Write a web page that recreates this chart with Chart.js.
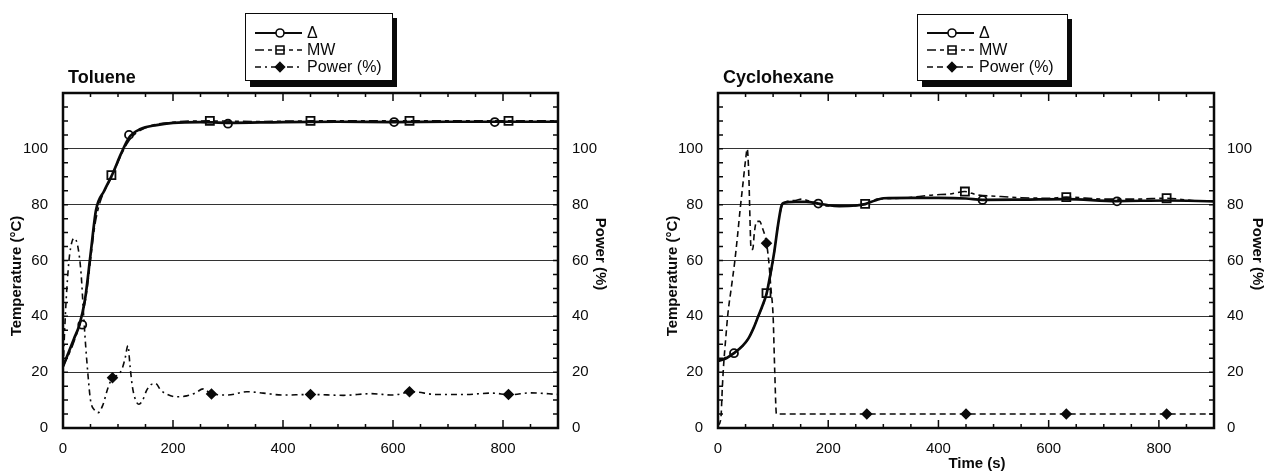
<!DOCTYPE html>
<html><head><meta charset="utf-8">
<script src="https://cdn.jsdelivr.net/npm/chart.js@4.4.0/dist/chart.umd.min.js"></script>
<style>
html,body{margin:0;padding:0;background:#fff;width:1265px;height:471px;overflow:hidden}
canvas{position:absolute;top:0}
</style></head><body>
<canvas id="c1" width="625" height="471" style="left:0"></canvas>
<canvas id="c2" width="610" height="471" style="left:655px"></canvas>
<script>
// ---------- Tick labels / axis ranges ----------
const xTicks = [0, 200, 400, 600, 800];
const yTicks = [0, 20, 40, 60, 80, 100];
const legendLabels = ['\u0394', 'MW', 'Power (%)'];

// ---------- Toluene ----------
const tolDeltaT = [0,10,20,30,40,50,60,75,90,105,120,140,170,200,250,300,400,500,600,700,800,900];
const tolDeltaV = [22,27,32,37,46,62,78,85,91,98,104,107,108.5,109.3,109.6,109.3,109.6,109.7,109.6,109.7,109.7,109.7];
const tolMWT = [0,20,40,60,90,120,150,200,267,350,450,550,630,720,810,900];
const tolMWV = [22,31,45,75,90.6,103,107.5,109.5,110,109.8,110,110,110,110,110,110];
const tolPowT = [0,3,7,12,20,27,33,37,41,45,50,57,64,72,82,90,100,107,113,118,122,126,132,138,145,152,160,168,178,190,205,225,240,255,270,300,334,364,400,450,510,560,600,634,680,730,780,813,850,900];
const tolPowV = [20,35,50,62,68,65,55,42,30,20,10,6.5,5.5,8,14.5,18,19,21,25,29.5,22,15,10,8.5,10,13.5,15.5,16,13.5,12,11.2,11.5,12.5,14,12.2,11.8,13,12.5,11.8,12,11.7,12.3,11.8,13,12,12,12.5,11.9,12.6,12];
const tolDeltaMarkT = [35,120,300,602,785];
const tolDeltaMarkV = [37,105,109,109.6,109.6];
const tolMWMarkT = [88,267,450,630,810];
const tolMWMarkV = [90.6,110,110,110,110];
const tolPowMarkT = [90,270,450,630,810];
const tolPowMarkV = [18,12.2,12,13,12];

// ---------- Cyclohexane ----------
const cycDeltaT = [0,15,29,45,55,65,73,82,88,95,102,109,115,120,140,160,182,200,220,250,267,285,300,350,400,450,480,550,632,724,814,900];
const cycDeltaV = [24,25,26.8,29.5,32,36,40,44.5,48,55,63,72.8,79.5,80.7,81,81,80.4,79.8,79.5,79.7,80.2,81.5,82.3,82.4,82.4,82.2,81.7,81.8,82,81.3,81.5,81.2];
const cycMWT = [0,30,55,73,88,100,110,118,140,152,170,200,240,267,290,330,391,420,448,470,506,550,600,632,700,760,814,860,900];
const cycMWV = [24,27,32,40,48,60,74,80.5,81.5,82,81,79.5,79.5,80.3,82,82.3,83.5,83.8,84.7,83.5,83,82.5,82.3,82.7,82,82,82.3,81.5,81.2];
const cycPowT = [0,5,8,10,14,18,24,30,35,40,45,50,53,56,58,60,63,66,70,76,80,85,88,92,96,100,103,106,120,270,450,632,814,900];
const cycPowV = [1,3,15,22,32,41,50,59,68,78,87,96,100,90,75,64,64,70,74,74,72,69,66.2,60,50,40,20,5,5,5,5,5,5,5];
const cycDeltaMarkT = [29,182,480,724];
const cycDeltaMarkV = [26.8,80.4,81.7,81.2];
const cycMWMarkT = [88,267,448,632,814];
const cycMWMarkV = [48.3,80.3,84.7,82.7,82.3];
const cycPowMarkT = [88,270,450,632,814];
const cycPowMarkV = [66.2,5,5,5,5];

const FONT = 'Liberation Sans, Arial, Helvetica, sans-serif';
const INK = '#0a0a0a';
const deltaStyle = {w:2.7, dash:[]};
const mwStyle = {w:1.6, dash:[9,4,4,4]};

function pts(xs, ys){ return xs.map((x,i)=>({x:x, y:ys[i]})); }
function lineDS(xs, ys, axis, st){
  return {data:pts(xs,ys), yAxisID:axis, borderColor:INK, borderWidth:st.w, borderDash:st.dash,
    pointRadius:0, cubicInterpolationMode:'monotone', fill:false};
}
function markDS(xs, ys, axis, style, r, bg){
  return {data:pts(xs,ys), yAxisID:axis, showLine:false, pointStyle:style, pointRadius:r,
    pointBackgroundColor:bg, pointBorderColor:INK, pointBorderWidth:1.8};
}

function drawMarker(ctx, kind, x, y){
  ctx.save(); ctx.setLineDash([]); ctx.lineWidth=1.6; ctx.strokeStyle=INK;
  ctx.beginPath();
  if(kind==='circle'){ ctx.arc(x,y,4,0,Math.PI*2); ctx.fillStyle='#fff'; ctx.fill(); ctx.stroke(); }
  else if(kind==='rect'){ ctx.rect(x-4,y-4,8,8); ctx.fillStyle='#fff'; ctx.fill(); ctx.moveTo(x-4,y); ctx.lineTo(x+4,y); ctx.stroke(); }
  else { ctx.moveTo(x,y-4.5); ctx.lineTo(x+4.5,y); ctx.lineTo(x,y+4.5); ctx.lineTo(x-4.5,y); ctx.closePath(); ctx.fillStyle=INK; ctx.fill(); ctx.stroke(); }
  ctx.restore();
}

const deco = {
  id:'deco',
  afterDraw(chart){
    const o = chart.options.plugins.deco;
    const ctx = chart.ctx, a = chart.chartArea, xs = chart.scales.x, ys = chart.scales.y;
    ctx.save();
    ctx.strokeStyle = INK; ctx.lineWidth = 1.5; ctx.setLineDash([]);
    ctx.beginPath();
    for(let v=50; v<900; v+=50){
      const px = xs.getPixelForValue(v); const L = v%200===0 ? 8 : 4;
      ctx.moveTo(px,a.bottom); ctx.lineTo(px,a.bottom-L);
      ctx.moveTo(px,a.top); ctx.lineTo(px,a.top+L);
    }
    for(let v=5; v<120; v+=5){
      const py = ys.getPixelForValue(v); const L = 5;
      ctx.moveTo(a.left,py); ctx.lineTo(a.left+L,py);
      ctx.moveTo(a.right,py); ctx.lineTo(a.right-L,py);
    }
    ctx.stroke();
    ctx.lineWidth = 2.5;
    ctx.strokeRect(a.left, a.top, a.right-a.left, a.bottom-a.top);
    // title
    ctx.fillStyle = INK; ctx.textBaseline = 'alphabetic'; ctx.textAlign = 'left';
    ctx.font = 'bold 18px ' + FONT;
    ctx.fillText(o.title, a.left+5, 83);
    // axis titles
    ctx.font = 'bold 15px ' + FONT;
    ctx.save(); ctx.translate(o.leftTitleX, 276); ctx.rotate(-Math.PI/2);
    ctx.textAlign='center'; ctx.textBaseline='middle'; ctx.fillText('Temperature (\u00B0C)',0,0); ctx.restore();
    ctx.save(); ctx.translate(o.rightTitleX, 254); ctx.rotate(Math.PI/2);
    ctx.textAlign='center'; ctx.textBaseline='middle'; ctx.fillText('Power (%)',0,0); ctx.restore();
    if(o.timeLabel){
      ctx.textAlign='center'; ctx.textBaseline='middle';
      ctx.fillText('Time (s)', (a.left+a.right)/2 + 11, 464);
    }
    // legend
    const L = o.legend;
    ctx.fillStyle = INK; ctx.fillRect(L.x+5, L.y+5, L.w, L.h+2);
    ctx.fillStyle = '#fff'; ctx.fillRect(L.x, L.y, L.w, L.h);
    ctx.lineWidth = 1; ctx.strokeStyle = INK; ctx.strokeRect(L.x+0.5, L.y+0.5, L.w, L.h);
    const rows = [
      {y:33, dash:deltaStyle.dash, w:2, m:'circle'},
      {y:50, dash:mwStyle.dash, w:1.6, m:'rect'},
      {y:67, dash:o.powDash, w:1.6, m:'diamond'}
    ];
    const x0 = L.x+10, x1 = L.x+57, xm = L.x+35;
    rows.forEach((r,i)=>{
      ctx.save(); ctx.strokeStyle=INK; ctx.lineWidth=r.w; ctx.setLineDash(r.dash);
      ctx.beginPath(); ctx.moveTo(x0,r.y); ctx.lineTo(x1,r.y); ctx.stroke(); ctx.restore();
      drawMarker(ctx, r.m, xm, r.y);
      ctx.fillStyle=INK; ctx.font='16px '+FONT; ctx.textAlign='left'; ctx.textBaseline='middle';
      ctx.fillText(legendLabels[i], L.x+62, r.y+1);
    });
    ctx.restore();
  }
};

function makeChart(id, d, cfg){
  const tickFont = {family:FONT, size:15};
  return new Chart(document.getElementById(id), {
    type:'line',
    data:{datasets:[
      lineDS(d.powT, d.powV, 'y2', {w:1.6, dash:cfg.powDash}),
      lineDS(d.mwT, d.mwV, 'y', mwStyle),
      lineDS(d.dT, d.dV, 'y', deltaStyle),
      markDS(d.powMT, d.powMV, 'y2', 'rectRot', 4.5, INK),
      markDS(d.mwMT, d.mwMV, 'y', 'rect', 5.7, '#fff'),
      markDS(d.dMT, d.dMV, 'y', 'circle', 4, '#fff')
    ]},
    options:{
      responsive:false, animation:false, devicePixelRatio:1,
      layout:{padding:{top:93, left:0, right:0, bottom:0}},
      plugins:{legend:{display:false}, title:{display:false}, tooltip:{enabled:false},
        deco:{title:cfg.title, leftTitleX:cfg.leftTitleX, rightTitleX:cfg.rightTitleX, timeLabel:cfg.timeLabel, legend:cfg.legend, powDash:cfg.powDash}},
      scales:{
        x:{type:'linear', min:0, max:900,
          afterBuildTicks(s){ s.ticks = xTicks.map(v=>({value:v})); },
          ticks:{padding:12, color:INK, font:tickFont, maxRotation:0, autoSkip:false},
          grid:{display:false, drawTicks:false}, border:{display:false},
          afterFit(s){ s.height = 43; }},
        y:{position:'left', min:0, max:120,
          afterBuildTicks(s){ s.ticks = yTicks.map(v=>({value:v})); },
          ticks:{padding:15, color:INK, font:tickFont},
          grid:{drawTicks:false, lineWidth:1, color:(c)=> (c.tick && c.tick.value===0) ? 'rgba(0,0,0,0)' : '#333'},
          border:{display:false},
          afterFit(s){ s.width = 63; }},
        y2:{position:'right', min:0, max:120,
          afterBuildTicks(s){ s.ticks = yTicks.map(v=>({value:v})); },
          ticks:{padding:cfg.rightPad, color:INK, font:tickFont},
          grid:{display:false, drawTicks:false}, border:{display:false},
          afterFit(s){ s.width = cfg.rightW; }}
      }
    },
    plugins:[deco]
  });
}

makeChart('c1', {dT:tolDeltaT, dV:tolDeltaV, mwT:tolMWT, mwV:tolMWV, powT:tolPowT, powV:tolPowV,
  dMT:tolDeltaMarkT, dMV:tolDeltaMarkV, mwMT:tolMWMarkT, mwMV:tolMWMarkV, powMT:tolPowMarkT, powMV:tolPowMarkV},
  {title:'Toluene', leftTitleX:17, rightTitleX:600, timeLabel:false, rightW:67, rightPad:14,
   legend:{x:245, y:13, w:147, h:67}, powDash:[6,4,2,4]});

makeChart('c2', {dT:cycDeltaT, dV:cycDeltaV, mwT:cycMWT, mwV:cycMWV, powT:cycPowT, powV:cycPowV,
  dMT:cycDeltaMarkT, dMV:cycDeltaMarkV, mwMT:cycMWMarkT, mwMV:cycMWMarkV, powMT:cycPowMarkT, powMV:cycPowMarkV},
  {title:'Cyclohexane', leftTitleX:18, rightTitleX:602, timeLabel:true, rightW:51, rightPad:13,
   legend:{x:262, y:14, w:150, h:66}, powDash:[6,4]});
</script>
</body></html>
